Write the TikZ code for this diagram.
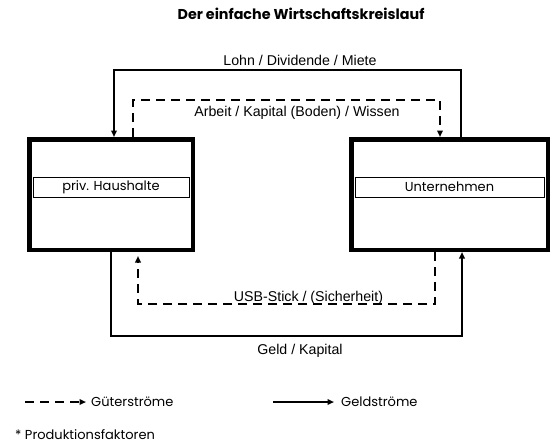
\documentclass[tikz,border=0pt]{standalone}
\usepackage{fontspec}
\setmainfont{Liberation Sans}
\newfontfamily\gothic{Poppins}
\usetikzlibrary{arrows.meta}
\begin{document}
\begin{tikzpicture}[x=1pt,y=-1pt,
  box/.style={draw, line width=4.5pt, minimum width=#1, minimum height=110.5pt, inner sep=0pt, fill=white},
  lbl/.style={draw, line width=0.8pt, minimum height=20pt, inner sep=0pt, fill=white, font=\gothic\fontsize{13}{15}\selectfont},
  tip/.style={-{Triangle[length=6.5pt,width=5.5pt]}},
  money/.style={line width=1.8pt, tip},
  goods/.style={line width=2.3pt, dash pattern=on 9pt off 6pt, tip},
  flow/.style={anchor=base, inner sep=0pt, font=\fontsize{14.2}{16}\selectfont},
  legend/.style={anchor=base west, inner sep=0pt, font=\gothic\fontsize{13}{15}\selectfont}]
\useasboundingbox (0,0) rectangle (559,445);

\node[anchor=base, inner sep=0pt, font=\gothic\bfseries\fontsize{14.3}{16}\selectfont] (title) at (301,19.5) {Der einfache Wirtschaftskreislauf};

\node[box=163.5pt] (hh) at (111,194.5) {};
\node[box=196.5pt] (un) at (449.5,194.5) {};
\node[lbl, minimum width=156pt] (hhl) at (111,187) {priv. Haushalte};
\node[lbl, minimum width=189pt] (unl) at (449.5,187) {Unternehmen};

% flows
\draw[money] (un.north -| 461,0) |- (114,70) -- (hh.north -| 114,0);
\draw[goods] (hh.north -| 133,0) |- (440,100) -- (un.north -| 440,0);
\draw[goods, shorten >=4pt] (un.south -| 435,0) |- (138,304) -- (hh.south -| 138,0);
\draw[money] (hh.south -| 111,0) |- (462,336) -- (un.south -| 462,0);

\node[flow] (lohn) at (300,65) {Lohn / Dividende / Miete};
\node[flow] (arb) at (297,116) {Arbeit / Kapital (Boden) / Wissen};
\node[flow] (usb) at (308.5,301) {USB-Stick / (Sicherheit)};
\node[flow] (geld) at (300,354) {Geld / Kapital};

% legend
\coordinate (ga) at (25,402);
\coordinate (gb) at (86,402);
\draw[goods] (ga) -- (gb);
\node[legend] (gtext) at (91,406.5) {Güterströme};
\coordinate (ma) at (273,402);
\coordinate (mb) at (334,402);
\draw[money] (ma) -- (mb);
\node[legend] (mtext) at (341,406.5) {Geldströme};
\node[legend] (note) at (15,439) {* Produktionsfaktoren};
\end{tikzpicture}
\end{document}
